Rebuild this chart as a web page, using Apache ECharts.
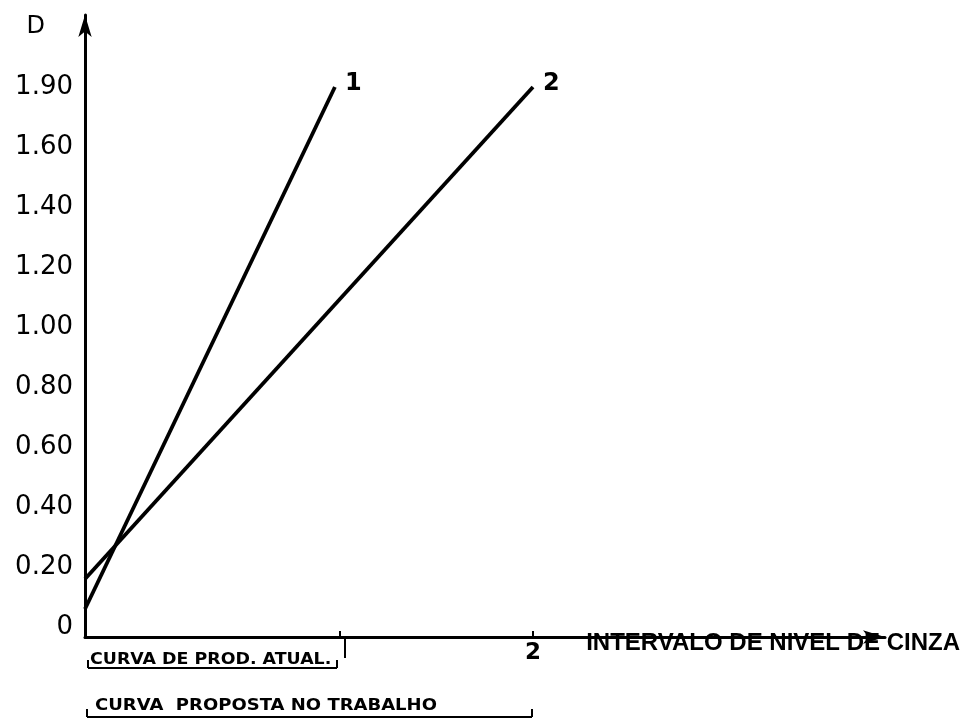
<!DOCTYPE html>
<html>
<head>
<meta charset="utf-8">
<script src="https://cdn.jsdelivr.net/npm/echarts@6/dist/echarts.min.js"></script>
<style>html,body{margin:0;padding:0;background:#fff}#c{width:965px;height:720px}</style>
</head>
<body>
<div id="c"></div>
<script>
// ---- data ----
const yTickValues = [0, 0.20, 0.40, 0.60, 0.80, 1.00, 1.20, 1.40, 1.60, 1.90];
const yTickLabels = ['0', '0.20', '0.40', '0.60', '0.80', '1.00', '1.20', '1.40', '1.60', '1.90'];
const xTickValues = [1, 2];
const xLabelValues = [2];
const series1X = [0, 0.98];
const series1D = [0.06, 1.90];
const series2X = [0, 2];
const series2D = [0.16, 1.90];
const seriesNames = ['1', '2'];
const yAxisTitle = 'D';
const xAxisTitle = 'INTERVALO DE NIVEL DE CINZA';
const bracket1Text = 'CURVA DE PROD. ATUAL.';
const bracket2Text = 'CURVA  PROPOSTA NO TRABALHO';

// The source drawing uses non-uniform scales: each D tick is one equal step,
// and the x interval 1..2 is drawn shorter than 0..1.
function interp(v, xs, ys) {
  for (let i = 0; i < xs.length - 1; i++) {
    if (v <= xs[i + 1] || i === xs.length - 2) {
      const t = (v - xs[i]) / (xs[i + 1] - xs[i]);
      return ys[i] + t * (ys[i + 1] - ys[i]);
    }
  }
  return ys[0];
}
const yIdx = yTickValues.map((_, i) => i);
function yPos(d) { return interp(d, yTickValues, yIdx); }
const xScaleIn = [0, 1, 2];
const xScaleOut = [0, 255, 448];
function xPos(x) { return interp(x, xScaleIn, xScaleOut); }

function toPairs(xs, ds) { return xs.map((x, i) => [xPos(x), yPos(ds[i])]); }

const chart = echarts.init(document.getElementById('c'), null, {renderer: 'canvas'});
const black = '#000';

function lineSeries(name, xs, ds) {
  return {
    type: 'line', name: name, showSymbol: false, symbol: 'none', animation: false,
    lineStyle: {color: black, width: 3.8},
    endLabel: {show: true, formatter: name, distance: 10, offset: [0, -3],
      color: black, fontSize: 24, fontWeight: 'bold', fontFamily: 'DejaVu Sans'},
    data: toPairs(xs, ds)
  };
}

chart.setOption({
  backgroundColor: '#fff',
  animation: false,
  grid: {left: 85, right: 80, top: 15, bottom: 83, containLabel: false},
  xAxis: {
    type: 'value', min: 0, max: 800,
    axisLine: {onZero: false, show: true, symbol: ['none', 'arrow'], symbolSize: [10, 22],
      lineStyle: {color: black, width: 3}},
    axisTick: {show: true, inside: true, length: 6, customValues: xTickValues.map(xPos),
      lineStyle: {color: black, width: 2}},
    axisLabel: {show: true, customValues: xLabelValues.map(xPos), margin: 5,
      formatter: v => { const i = xLabelValues.findIndex(x => Math.abs(xPos(x) - v) < 1e-6); return i >= 0 ? String(xLabelValues[i]) : ''; },
      color: black, fontSize: 23, fontWeight: 'bold', fontFamily: 'DejaVu Sans'},
    splitLine: {show: false},
    name: xAxisTitle, nameLocation: 'end', nameGap: 75,
    nameTextStyle: {align: 'right', verticalAlign: 'top', padding: [-6, 0, 0, 0],
      color: black, fontSize: 24, fontWeight: 'bold', fontFamily: 'Liberation Sans'}
  },
  yAxis: {
    type: 'value', min: -1 / 6, max: 10.2,
    axisLine: {onZero: false, show: true, symbol: ['none', 'arrow'], symbolSize: [10, 22],
      lineStyle: {color: black, width: 3}},
    axisTick: {show: false},
    axisLabel: {show: true, customValues: yIdx, margin: 12,
      formatter: v => yTickLabels[Math.round(v)],
      color: black, fontSize: 26, fontFamily: 'DejaVu Sans'},
    splitLine: {show: false},
    name: yAxisTitle, nameLocation: 'end', nameGap: -12,
    nameTextStyle: {align: 'right', verticalAlign: 'middle', padding: [0, 40, 0, 0],
      color: black, fontSize: 24, fontFamily: 'DejaVu Sans'}
  },
  series: [
    lineSeries(seriesNames[0], series1X, series1D),
    lineSeries(seriesNames[1], series2X, series2D)
  ]
});

// bracket annotations under the x axis, anchored to the axis scale
const p0 = chart.convertToPixel({gridIndex: 0}, [xPos(0), -1 / 6]);
const p1 = chart.convertToPixel({gridIndex: 0}, [xPos(1), -1 / 6]);
const p2 = chart.convertToPixel({gridIndex: 0}, [xPos(2), -1 / 6]);
const ax = p0[1];
const ls = {stroke: black, lineWidth: 2};
function ln(x1, y1, x2, y2) { return {type: 'line', shape: {x1, y1, x2, y2}, style: ls, silent: true}; }
const b1y = ax + 31, b2y = ax + 80;
chart.setOption({
  graphic: [
    ln(p1[0] + 5, ax, p1[0] + 5, ax + 21),
    ln(p0[0] + 3, b1y - 8, p0[0] + 3, b1y),
    ln(p0[0] + 3, b1y, p1[0] - 3, b1y),
    ln(p1[0] - 3, b1y - 8, p1[0] - 3, b1y),
    {type: 'text', x: p0[0] + 5, y: b1y, scaleX: 1.16, silent: true,
      style: {text: bracket1Text, fill: black, font: 'bold 15px "DejaVu Sans"', textVerticalAlign: 'bottom'}},
    ln(p0[0] + 2, b2y - 8, p0[0] + 2, b2y),
    ln(p0[0] + 2, b2y, p2[0] - 1, b2y),
    ln(p2[0] - 1, b2y - 8, p2[0] - 1, b2y),
    {type: 'text', x: p0[0] + 10, y: b2y - 3, scaleX: 1.125, silent: true,
      style: {text: bracket2Text, fill: black, font: 'bold 16px "DejaVu Sans"', textVerticalAlign: 'bottom'}}
  ]
});
</script>
</body>
</html>
